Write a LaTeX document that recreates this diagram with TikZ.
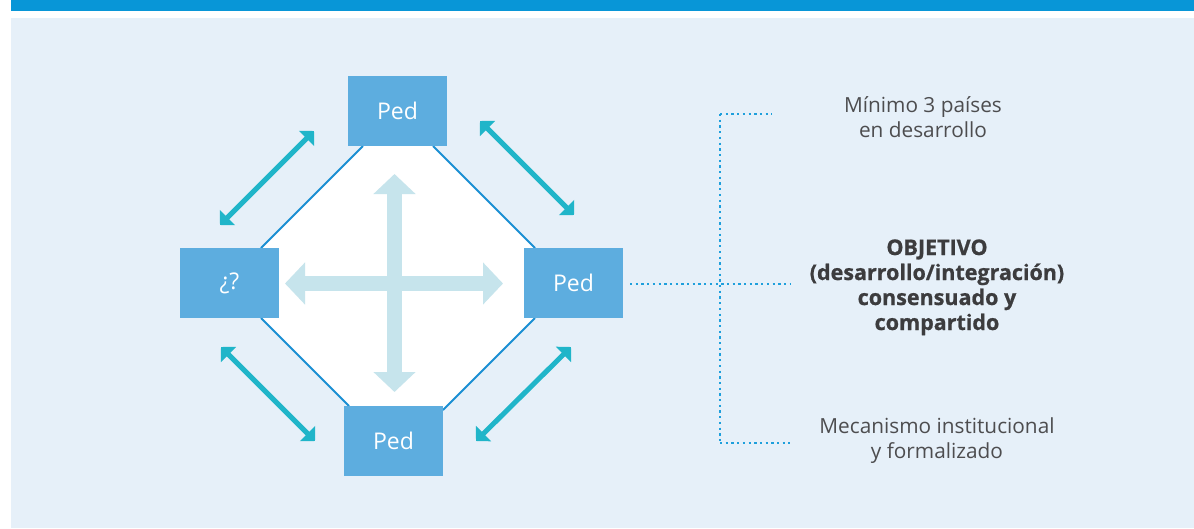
\documentclass[tikz,border=0pt]{standalone}
\usepackage{fontspec}
\setmainfont{Open Sans}
\newfontfamily\heavyfont[BoldFeatures={FakeBold=0.8}]{Open Sans}
\usetikzlibrary{arrows.meta}
\definecolor{barblue}{HTML}{0896D7}
\definecolor{bgblue}{HTML}{E6F0F9}
\definecolor{boxblue}{HTML}{5DADDF}
\definecolor{teal}{HTML}{20B5C9}
\definecolor{crossblue}{HTML}{C6E4EC}
\definecolor{lineblue}{HTML}{1A8FD3}
\definecolor{dotblue}{HTML}{1E9FDC}
\definecolor{txtgray}{HTML}{4D4D4F}
\definecolor{txtdark}{HTML}{3C3C3E}
\tikzset{
  pedbox/.style={fill=boxblue, minimum width=99pt, minimum height=70pt, inner sep=0pt,
    text=white, font=\fontsize{23}{27}\selectfont},
  diagline/.style={draw=lineblue, line width=1.8pt},
  tealarrow/.style={draw=teal, line width=5pt, {Triangle[length=10.6pt,width=21.2pt]}-{Triangle[length=10.6pt,width=21.2pt]}},
  crossarrow/.style={draw=crossblue, line width=15pt, {Triangle[length=20pt,width=41pt]}-{Triangle[length=20pt,width=41pt]}},
  dotline/.style={draw=dotblue, line width=2.3pt, dash pattern=on 2.3pt off 3.4pt},
  txt/.style={anchor=base, inner sep=0pt, text=txtgray, font=\fontsize{20.8}{25}\selectfont},
  btxt/.style={anchor=base, inner sep=0pt, text=txtdark, font=\fontsize{21.5}{25}\heavyfont\bfseries}
}
\begin{document}
\begin{tikzpicture}[x=1pt,y=-1pt]
\useasboundingbox (0,0) rectangle (1194,528);
% background and bar
\fill[white] (0,0) rectangle (1194,528);
\fill[barblue] (11,0) rectangle (1194,11);
\fill[bgblue] (11,18) rectangle (1194,528);
% diamond corner points
\coordinate (a1) at (363,146);
\coordinate (a2) at (261,248);
\coordinate (a3) at (261,318);
\coordinate (a4) at (349,406);
\coordinate (a5) at (443,410);
\coordinate (a6) at (535,318);
\coordinate (a7) at (535,248);
\coordinate (a8) at (433,146);
\fill[white] (a1)--(a2)--(a3)--(a4)--(a5)--(a6)--(a7)--(a8)--cycle;
\draw[diagline] (a1)--(a2);
\draw[diagline] (a3)--(a4);
\draw[diagline] (a5)--(a6);
\draw[diagline] (a7)--(a8);
% light cross arrows
\coordinate (cT) at (394.5,174);
\coordinate (cB) at (394.5,392);
\coordinate (cL) at (285,283.5);
\coordinate (cR) at (503,283.5);
\draw[crossarrow] (cT) -- (cB);
\draw[crossarrow] (cL) -- (cR);
% boxes
\node[pedbox] (top) at (397.5,111) {Ped};
\node[pedbox] (left) at (229.5,283) {¿?};
\node[pedbox] (right) at (573.5,283) {Ped};
\node[pedbox] (bottom) at (393.5,441) {Ped};
% teal double arrows
\coordinate (tl1) at (220,225); \coordinate (tl2) at (314,131);
\coordinate (tr1) at (480,121); \coordinate (tr2) at (574,215);
\coordinate (bl1) at (221,347); \coordinate (bl2) at (315,441);
\coordinate (br1) at (571,347); \coordinate (br2) at (476,441);
\draw[tealarrow] (tl1) -- (tl2);
\draw[tealarrow] (tr1) -- (tr2);
\draw[tealarrow] (bl1) -- (bl2);
\draw[tealarrow] (br1) -- (br2);
% dotted bracket
\coordinate (d0) at (630,284);
\coordinate (dm) at (720,284);
\coordinate (d1) at (790,284);
\coordinate (vt) at (720,114);
\coordinate (vb) at (720,443);
\coordinate (ht) at (772,114);
\coordinate (hb) at (790,443);
\draw[dotline] (d0) -- (d1);
\draw[dotline] (vt) -- (vb);
\draw[dotline] (vt) -- (ht);
\draw[dotline] (vb) -- (hb);
% texts
\node[txt] (t1a) at (923,112) {Mínimo 3 países};
\node[txt] (t1b) at (923,137) {en desarrollo};
\node[btxt] (t2a) at (937,255) {OBJETIVO};
\node[btxt] (t2b) at (937,280) {(desarrollo/integración)};
\node[btxt] (t2c) at (937,305) {consensuado y};
\node[btxt] (t2d) at (937,330) {compartido};
\node[txt] (t3a) at (937,433) {Mecanismo institucional};
\node[txt] (t3b) at (937,458) {y formalizado};
\end{tikzpicture}
\end{document}
